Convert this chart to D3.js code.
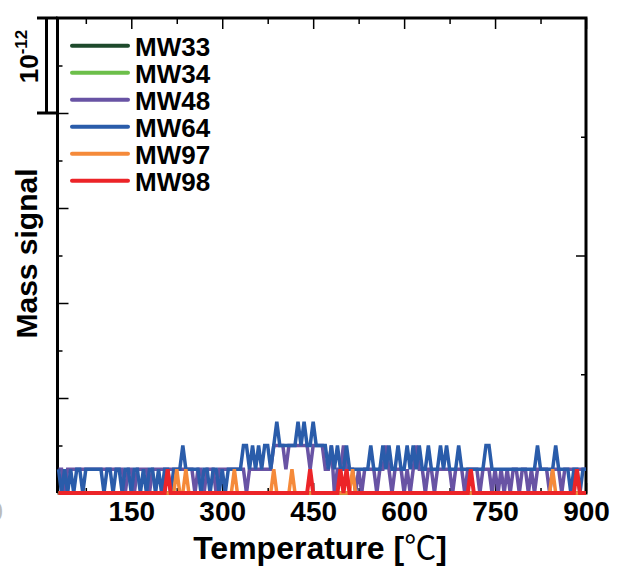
<!DOCTYPE html>
<html><head><meta charset="utf-8">
<script src="https://cdn.jsdelivr.net/npm/d3@7"></script>
<style>body{margin:0;background:#fff}svg{display:block}</style>
</head><body>
<svg id="c" width="624" height="566"></svg>
<script>
// Temperature samples (°C)
const temps = d3.range(30, 905, 5);
const seriesNames = ["MW33", "MW34", "MW48", "MW64", "MW97", "MW98"];
const seriesColors = ["#1e4a2c", "#6cbf4a", "#6853a4", "#2a5caa", "#f58a3a", "#ec2428"];
// Mass signal values in units of 10^-12
const mw33 = [
0,0,0,0,0,0,0,0,0,0, 0,0,0,0,0,0,0,0,0,0, 0,0,0,0,0,0,0,0,0,0, 0,0,0,0,0,0,0,0,0,0,
0,0,0,0,0,0,0,0,0,0, 0,0,0,0,0,0,0,0,0,0, 0,0,0,0,0,0,0,0,0,0, 0,0,0,0,0,0,0,0,0,0,
0,0,0,0,0,0,0,0,0,0, 0,0,0,0,0,0,0,0,0,0, 0,0,0,0,0,0,0,0,0,0, 0,0,0,0,0,0,0,0,0,0,
0,0,0,0,0,0,0,0,0,0, 0,0,0,0,0,0,0,0,0,0, 0,0,0,0,0,0,0,0,0,0, 0,0,0,0,0,0,0,0,0,0,
0,0,0,0,0,0,0,0,0,0, 0,0,0,0,0];
const mw34 = [
0,0,0,0,0,0,0,0,0,0, 0,0,0,0,0,0,0,0,0,0, 0,0,0,0,0,0,0,0,0,0, 0,0,0,0,0,0,0,0,0,0,
0,0,0,0,0,0,0,0,0,0, 0,0,0,0,0,0,0,0,0,0, 0,0,0,0,0,0,0,0,0,0, 0,0,0,0,0,0,0,0,0,0,
0,0,0,0,0,0,0,0,0,0, 0,0,0,0,0,0,0,0,0,0, 0,0,0,0,0,0,0,0,0,0, 0,0,0,0,0,0,0,0,0,0,
0,0,0,0,0,0,0,0,0,0, 0,0,0,0,0,0,0,0,0,0, 0,0,0,0,0,0,0,0,0,0, 0,0,0,0,0,0,0,0,0,0,
0,0,0,0,0,0,0,0,0,0, 0,0,0,0,0];
const mw48 = [
.25,.25,0,.25,.25,.25,.25,.25,.25,.25, .25,.25,.25,.25,.25,.25,.25,.25,.25,.25,
.25,.25,0,.25,.25,0,.25,.25,.25,.25, 0,.25,.25,.25,.25,.25,.25,.25,.25,.25,
.25,.25,.25,.25,.25,0,.25,.25,0,.25, .25,.25,0,.25,.25,.25,.25,.25,.25,.25,
.25,.25,0,.25,.25,.25,.25,.25,.25,.25, .25,.5,.5,.5,.5,.25,.5,.5,.5,.5,
.5,.5,.5,.25,.5,.5,.5,.5,.25,.25, .5,0,.25,.25,.5,.25,.25,.25,0,.25,
0,.25,.25,.25,.25,0,.25,.25,.5,.25, 0,.25,.25,.25,0,.25,0,.25,.5,.25,
.25,0,.25,.25,0,.25,.25,.25,.25,.25, 0,.25,.25,.25,0,.25,.25,.25,.25,0,
.25,.25,.25,0,.25,0,.25,0,.25,0, .25,.25,0,.25,.25,0,.25,0,.25,.25,
.25,.25,0,.25,.25,.25,0,.25,.25,.25, .25,.25,.25,.25,.25];
const mw64 = [
.25,0,.25,0,.25,0,.25,.25,0,.25, .25,.25,.25,.25,.25,0,.25,.25,0,.25,
.25,0,.25,.25,0,.25,.25,0,.25,0, .25,.25,0,.25,0,.25,.25,0,.25,.25,
.25,.5,.25,.25,.25,.25,.25,0,.25,.25, 0,.25,.25,0,.25,0,.25,.25,.25,.25,
.25,.5,.5,.25,.5,.25,.5,.25,.5,.5, .25,.5,.75,.5,.5,.5,.5,.5,.5,.75,
.5,.75,.5,.5,.75,.5,.5,.5,.5,.25, .5,.25,.5,.25,.25,.5,.25,.25,.25,.25,
.25,.25,.25,.5,.25,.25,.25,.5,.25,.5, .25,.25,.5,.25,.25,.5,.25,.5,.25,.5,
.25,.25,.5,.25,.25,.25,.5,.25,.5,.25, .25,.25,.5,.25,.25,.25,.25,.25,.25,.25,
.25,.5,.5,.25,.25,.25,.25,.25,.25,.25, .25,.25,.25,.25,.25,.25,.25,.25,.5,.25,
.25,.25,.25,.25,.5,.25,.25,.25,.25,0, .25,.25,0,.25,.25];
const mw97 = [
0,0,0,0,0,0,0,0,0,0, 0,0,0,0,0,0,0,0,0,0, 0,0,0,0,0,0,0,0,0,0, 0,0,0,0,0,0,0,0,0,.25,
0,0,.25,0,0,0,0,0,0,0, 0,0,0,0,0,0,0,0,.25,0, 0,0,0,0,0,0,0,0,0,0, 0,.25,0,0,0,0,0,.25,0,0,
0,0,0,0,0,0,0,0,0,0, 0,0,0,0,0,0,0,.25,0,0, 0,0,0,0,0,0,0,0,0,0, 0,0,0,0,0,0,0,0,0,0,
0,0,0,0,0,0,0,0,0,0, 0,0,0,0,0,0,0,0,0,0, 0,0,0,0,0,0,0,0,0,0, 0,0,0,0,0,0,0,0,0,0,
0,0,0,.25,0,0,0,0,0,0, 0,0,0,0,0];
const mw98 = [
0,0,0,0,0,0,0,0,0,0, 0,0,0,0,0,0,0,0,0,0, 0,0,0,0,0,0,0,0,0,0, 0,0,0,0,0,0,.25,0,0,0,
0,0,0,0,0,0,0,0,0,0, 0,0,0,0,0,0,0,0,0,0, 0,0,0,0,0,0,0,0,0,0, 0,0,0,0,0,0,0,0,0,0,
0,0,0,.25,0,0,0,0,0,0, 0,0,0,.25,0,.25,0,0,0,0, 0,0,0,0,0,0,0,0,0,0, 0,0,0,0,0,0,0,0,0,0,
0,0,0,0,0,0,0,0,0,0, 0,0,0,0,0,0,.25,0,0,0, 0,0,0,0,0,0,0,0,0,0, 0,0,0,0,0,0,0,0,0,0,
0,0,0,0,0,0,0,0,0,0, 0,.25,0,0,0];
const seriesValues = [mw33, mw34, mw48, mw64, mw97, mw98];

const xTickLabels = [150, 300, 450, 600, 750, 900];
const xMinorTicks = [75, 225, 375, 525, 675, 825];
const yMajorTicks = [1, 2, 3, 4];
const yMinorTicks = [0.5, 1.5, 2.5, 3.5, 4.5];
const yRightMajor = [2.5];
const yRightMinor = [1.25, 3.75];

const FONT = "'Liberation Sans', Arial, Helvetica, sans-serif";
const svg = d3.select("#c");
const L = 57.5, R = 586, T = 18, B = 493;
const x = d3.scaleLinear().domain([28.3, 900]).range([L, R]);
const y = d3.scaleLinear().domain([0, 5]).range([B, T]);

function styleAxis(g, w) {
  g.select(".domain").remove();
  g.selectAll(".tick line").attr("stroke", "#000").attr("stroke-width", w);
}
// bottom axis with labels (inward ticks)
svg.append("g").attr("transform", `translate(0,${B})`)
  .call(d3.axisBottom(x).tickValues(xTickLabels).tickSize(-10).tickPadding(8).tickFormat(d3.format("d")))
  .call(g => styleAxis(g, 1.5))
  .call(g => g.selectAll("text").attr("font-family", FONT).attr("font-weight", "bold").attr("font-size", 28).attr("fill", "#000"));
svg.append("g").attr("transform", `translate(0,${B})`)
  .call(d3.axisBottom(x).tickValues(xMinorTicks).tickSize(-5).tickFormat(""))
  .call(g => styleAxis(g, 1.5));
// top axis
svg.append("g").attr("transform", `translate(0,${T})`)
  .call(d3.axisTop(x).tickValues(xTickLabels).tickSize(-11).tickFormat(""))
  .call(g => styleAxis(g, 1.5));
svg.append("g").attr("transform", `translate(0,${T})`)
  .call(d3.axisTop(x).tickValues(xMinorTicks).tickSize(-6).tickFormat(""))
  .call(g => styleAxis(g, 1.5));
// left axis
svg.append("g").attr("transform", `translate(${L},0)`)
  .call(d3.axisLeft(y).tickValues(yMajorTicks).tickSize(-11).tickFormat(""))
  .call(g => styleAxis(g, 1.5));
svg.append("g").attr("transform", `translate(${L},0)`)
  .call(d3.axisLeft(y).tickValues(yMinorTicks).tickSize(-5).tickFormat(""))
  .call(g => styleAxis(g, 1.5));
// right axis
svg.append("g").attr("transform", `translate(${R},0)`)
  .call(d3.axisRight(y).tickValues(yRightMajor).tickSize(-10).tickFormat(""))
  .call(g => styleAxis(g, 1.5));
svg.append("g").attr("transform", `translate(${R},0)`)
  .call(d3.axisRight(y).tickValues(yRightMinor).tickSize(-5).tickFormat(""))
  .call(g => styleAxis(g, 1.5));

// frame
svg.append("path")
  .attr("d", `M${L},${B}V${T}H${R}V${B}H${L}`)
  .attr("fill", "none").attr("stroke", "#000").attr("stroke-width", 3).attr("stroke-linejoin", "miter");
// scale bar (10^-12)
const barX = 46.5;
svg.append("path")
  .attr("d", `M37,${y(5)}H${L} M${barX},${y(5)}V${y(4)} M37,${y(4)}H${L}`)
  .attr("fill", "none").attr("stroke", "#000").attr("stroke-width", 3);
svg.append("text")
  .attr("transform", `translate(37.5,${(y(5)+y(4))/2 - 9}) rotate(-90)`)
  .attr("text-anchor", "middle").attr("font-family", FONT).attr("font-weight", "bold")
  .attr("font-size", 26).attr("fill", "#000")
  .call(t => { t.append("tspan").text("10"); t.append("tspan").attr("dy", -11).attr("font-size", 17).text("-12"); });

// data lines
const line = d3.line().x((d, i) => x(temps[i])).y(d => y(d));
seriesValues.forEach((vals, k) => {
  svg.append("path").datum(vals)
    .attr("d", line)
    .attr("fill", "none")
    .attr("stroke", seriesColors[k])
    .attr("stroke-width", k === 5 ? 4 : 3.5)
    .attr("stroke-linejoin", "miter")
    .attr("stroke-miterlimit", 3);
});

// legend
const legend = svg.append("g");
seriesNames.forEach((name, k) => {
  const ly = 45.7 + 27 * k;
  legend.append("line").attr("x1", 72).attr("x2", 128).attr("y1", ly).attr("y2", ly)
    .attr("stroke", seriesColors[k]).attr("stroke-width", 4).attr("stroke-linecap", "round");
  legend.append("text").attr("x", 135).attr("y", ly + 10)
    .attr("font-family", FONT).attr("font-weight", "bold").attr("font-size", 26).attr("fill", "#000")
    .text(name);
});

// axis titles
svg.append("text")
  .attr("transform", "translate(37,253.5) rotate(-90)")
  .attr("text-anchor", "middle").attr("font-family", FONT).attr("font-weight", "bold")
  .attr("font-size", 30).attr("fill", "#000").text("Mass signal");
svg.append("text")
  .attr("x", 320).attr("y", 559)
  .attr("text-anchor", "middle").attr("font-family", FONT).attr("font-weight", "bold")
  .attr("font-size", 32).attr("fill", "#000")
  .call(t => {
    t.append("tspan").text("Temperature [");
    t.append("tspan").attr("font-family", "'Noto Sans CJK JP', 'Noto Sans CJK SC', sans-serif").attr("font-weight", "normal").text("℃");
    t.append("tspan").text("]");
  });
// clipped label of neighbouring panel at far left
svg.append("text").attr("x", 3).attr("y", 521).attr("text-anchor", "end")
  .attr("font-family", FONT).attr("font-weight", "bold").attr("font-size", 28).attr("fill", "#bbb").text("0");
</script>
</body></html>
